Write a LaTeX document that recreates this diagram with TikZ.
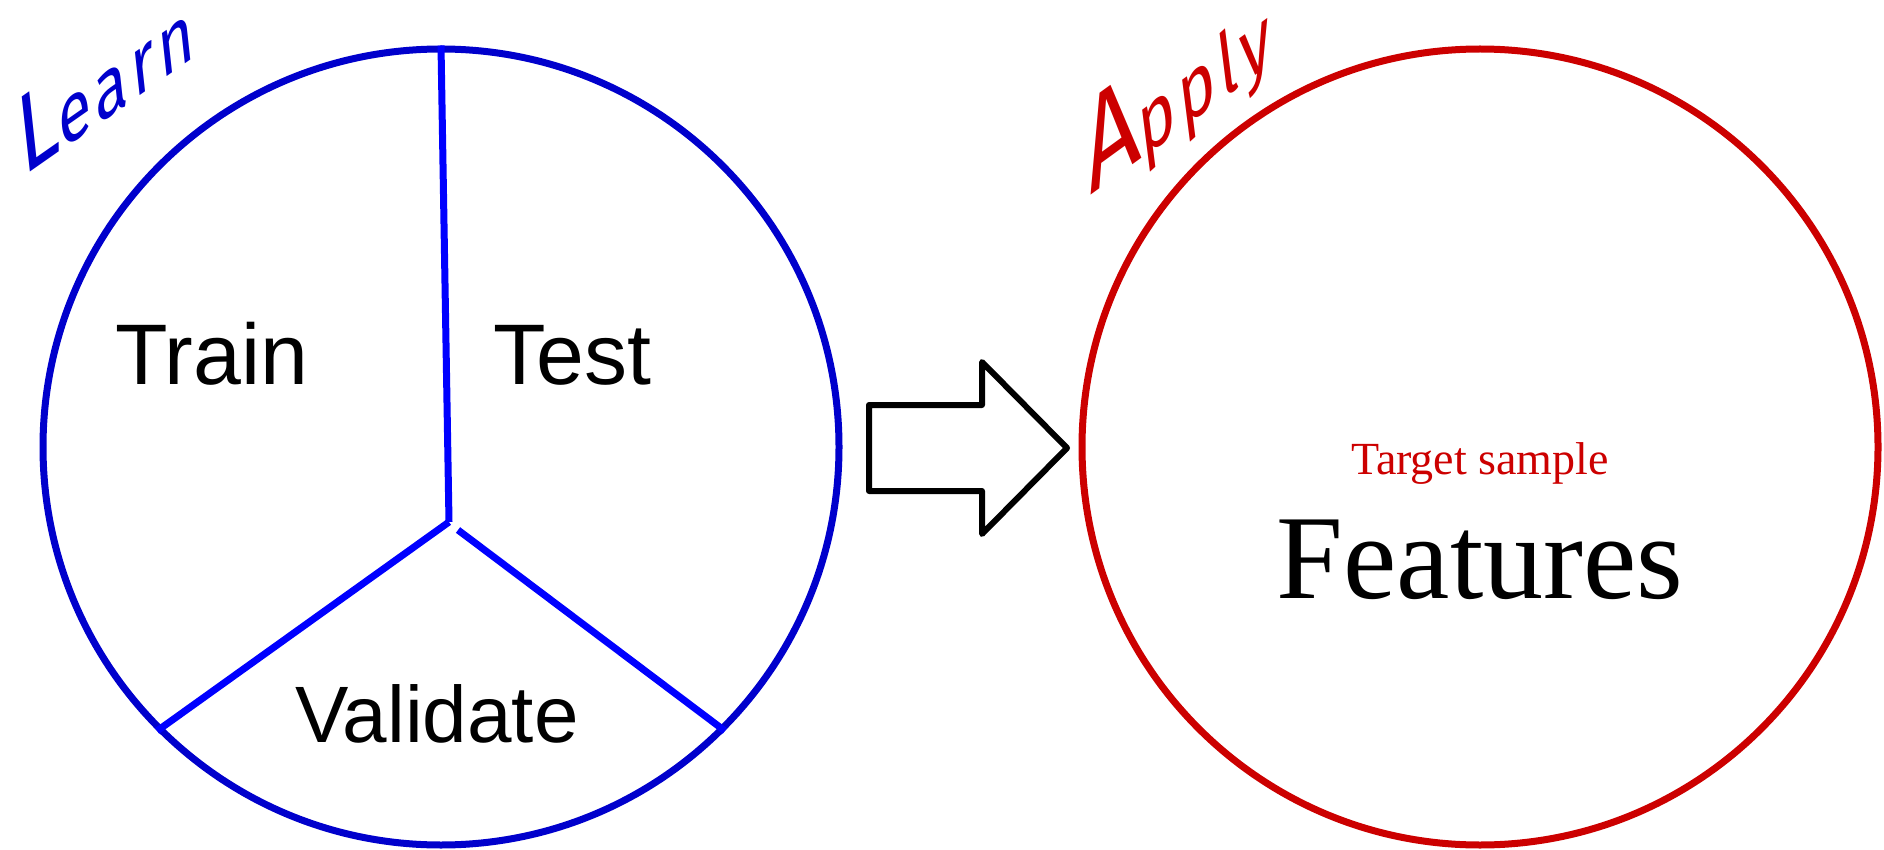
\documentclass[tikz,border=0pt]{standalone}
\usepackage{fontspec}
\setmainfont{Liberation Serif}
\setsansfont{Liberation Sans}
\newfontfamily\handfont{Fira Sans}[LetterSpace=8]
\definecolor{learnblue}{RGB}{0,0,204}
\definecolor{splitblue}{RGB}{0,0,255}
\definecolor{applyred}{RGB}{204,0,0}
\newcommand{\handsize}[1]{\fontsize{#1}{#1}\selectfont}
\tikzset{
  ring/.style={circle, draw, line width=7pt, inner sep=0pt, minimum size=796pt},
  split/.style={draw=splitblue, line width=7pt},
  part/.style={font=\sffamily\fontsize{86}{96}\selectfont, anchor=base},
  hand/.style={transform shape, inner sep=0pt, anchor=base west, font=\handfont},
  handtilt/.style={rotate=#1, xslant=0.55},
  blockarrow/.style={draw=black, line width=6pt, line join=round}
}
\begin{document}
\begin{tikzpicture}[x=1pt,y=-1pt]
  \useasboundingbox (0,0) rectangle (1884,850);

  % the data set, split into three parts
  \node[ring, draw=learnblue] (learn) at (441,447) {};
  \coordinate (hubA) at (449,522);
  \coordinate (hubB) at (458,530);
  \draw[split] (learn.90) -- (hubA);
  \draw[split] (hubA) -- (learn.225);
  \draw[split] (hubB) -- (learn.-45);

  \node[part] (train) at (212,384) {Train};
  \node[part] (test) at (572,384) {Test};
  \node[part, font=\sffamily\fontsize{80}{90}\selectfont] (validate) at (437,742) {Validate};

  % the new sample
  \node[ring, draw=applyred] (apply) at (1480,447) {};
  \node[anchor=base, text=applyred, font=\fontsize{46}{52}\selectfont] (target) at (1480,474) {Target sample};
  \node[anchor=base, font=\fontsize{120}{130}\selectfont] (features) at (1480,598) {Features};

  % handwritten headings: tall capital, small lower case, rising baseline
  \begin{scope}[shift={(22,178)}, handtilt=35]
    \node[hand, text=learnblue] (learnlbl) at (0,0) {\handsize{96}L\handsize{72}earn};
  \end{scope}
  \begin{scope}[shift={(1090,196)}, handtilt=36]
    \node[hand, text=applyred] (applylbl) at (0,0) {\handsize{112}A\handsize{74}pply};
  \end{scope}

  % block arrow between the circles
  \coordinate (a1) at (869,405);
  \coordinate (a2) at (982,405);
  \coordinate (a3) at (982,362);
  \coordinate (tip) at (1067,448);
  \coordinate (a5) at (982,534);
  \coordinate (a6) at (982,491);
  \coordinate (a7) at (869,491);
  \draw[blockarrow] (a1) -- (a2) -- (a3) -- (tip) -- (a5) -- (a6) -- (a7) -- cycle;
\end{tikzpicture}
\end{document}
